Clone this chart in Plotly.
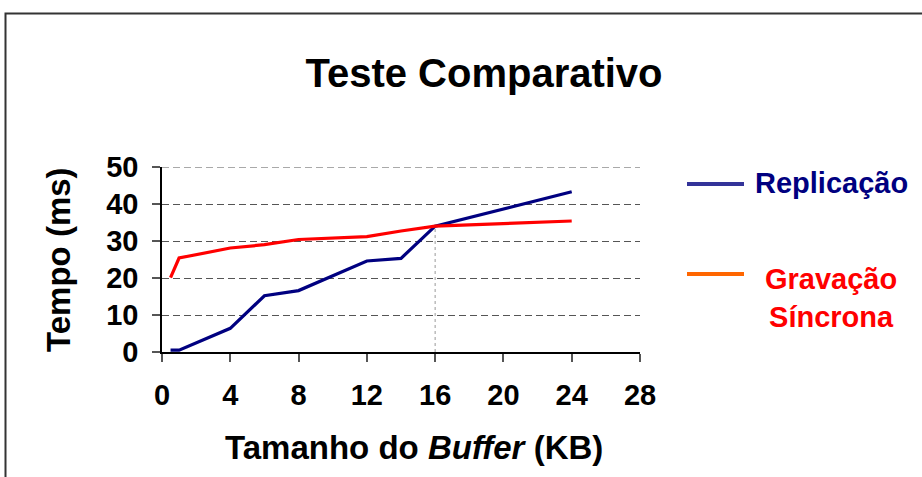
import plotly.graph_objects as go

# ---- data ----
buffer_kb = [0.5, 1, 4, 6, 8, 12, 14, 16, 24]
replicacao = [0.5, 0.5, 6.4, 15.2, 16.6, 24.6, 25.3, 34.0, 43.3]
gravacao = [20.1, 25.4, 28.1, 29.0, 30.4, 31.2, 32.7, 34.0, 35.4]
x_ticks = [0, 4, 8, 12, 16, 20, 24, 28]
y_ticks = [0, 10, 20, 30, 40, 50]
cross_index = 7  # point where the two series meet (16 KB)

W, H = 922, 477
L, R, T, B = 162, 282, 167, 125
PW, PH = W - L - R, H - T - B
FONT = "Liberation Sans, Arial, sans-serif"


def px(x):
    return (x - L) / PW


def py(y):
    return (H - B - y) / PH


fig = go.Figure()
fig.add_trace(go.Scatter(x=buffer_kb, y=replicacao, mode="lines",
                         line=dict(color="#000080", width=3.2), name="Replicação"))
fig.add_trace(go.Scatter(x=buffer_kb, y=gravacao, mode="lines",
                         line=dict(color="#FF0000", width=3.2), name="Gravação Síncrona"))

shapes = [
    # top gridline (at the edge of the range)
    dict(type="line", xref="paper", yref="y", x0=0, x1=1, y0=y_ticks[-1], y1=y_ticks[-1],
         line=dict(color="#555555", width=1, dash="7px,4px"), layer="below"),
    # drop line at the crossing point
    dict(type="line", xref="x", yref="y", x0=buffer_kb[cross_index], x1=buffer_kb[cross_index],
         y0=0, y1=gravacao[cross_index], line=dict(color="#999999", width=1, dash="dot"), layer="below"),
    # outer frame
    dict(type="rect", xref="paper", yref="paper", x0=px(5.5), x1=px(930), y0=py(490), y1=py(13.5),
         line=dict(color="#333333", width=2)),
    # legend lines
    dict(type="line", xref="paper", yref="paper", x0=px(687), x1=px(744), y0=py(184), y1=py(184),
         line=dict(color="#333399", width=4)),
    dict(type="line", xref="paper", yref="paper", x0=px(687), x1=px(744), y0=py(274), y1=py(274),
         line=dict(color="#FF6600", width=4)),
]

annotations = [
    dict(text="<b>Replicação</b>", xref="paper", yref="paper", x=px(753), y=py(183),
         xanchor="left", yanchor="middle", showarrow=False,
         font=dict(family=FONT, size=29, color="#000080")),
    dict(text="<b>Gravação<br>Síncrona</b>", xref="paper", yref="paper", x=px(831), y=py(298),
         xanchor="center", yanchor="middle", showarrow=False, align="center",
         font=dict(family=FONT, size=29, color="#FF0000")),
    dict(text="<b>Tamanho do <i>Buffer</i> (KB)</b>", xref="paper", yref="paper", x=px(414), y=py(447),
         xanchor="center", yanchor="middle", showarrow=False,
         font=dict(family=FONT, size=33, color="#000000")),
    dict(text="<b>Tempo (ms)</b>", xref="paper", yref="paper", x=px(58), y=py(260),
         xanchor="center", yanchor="middle", showarrow=False, textangle=-90,
         font=dict(family=FONT, size=33, color="#000000")),
]

fig.update_layout(
    width=W, height=H,
    margin=dict(l=L, r=R, t=T, b=B),
    paper_bgcolor="white", plot_bgcolor="white",
    showlegend=False,
    title=dict(text="<b>Teste Comparativo</b>", x=px(484), xref="paper", xanchor="center",
               y=1 - 73 / H, yref="container", yanchor="middle",
               font=dict(family=FONT, size=40, color="#000000")),
    shapes=shapes,
    annotations=annotations,
)

fig.update_xaxes(range=[0, 28], tickvals=x_ticks, ticktext=[str(v) for v in x_ticks],
                 showgrid=False, zeroline=False, showline=True, linecolor="#000000", linewidth=1.5,
                 ticks="outside", ticklen=8, tickcolor="#555555", tickwidth=1.5,
                 ticklabelstandoff=8,
                 tickfont=dict(family=FONT, size=29, color="#000000", weight="bold"))
fig.update_yaxes(range=[0, 50], tickvals=y_ticks, ticktext=[str(v) for v in y_ticks],
                 showgrid=True, gridcolor="#555555", gridwidth=1, griddash="7px,4px",
                 zeroline=False, showline=True, linecolor="#000000", linewidth=1.5,
                 ticks="outside", ticklen=8, tickcolor="#555555", tickwidth=1.5,
                 ticklabelstandoff=8,
                 tickfont=dict(family=FONT, size=29, color="#000000", weight="bold"))

fig.write_html("out.html", config={"displayModeBar": False},
               post_script="document.body.style.margin='0';")
